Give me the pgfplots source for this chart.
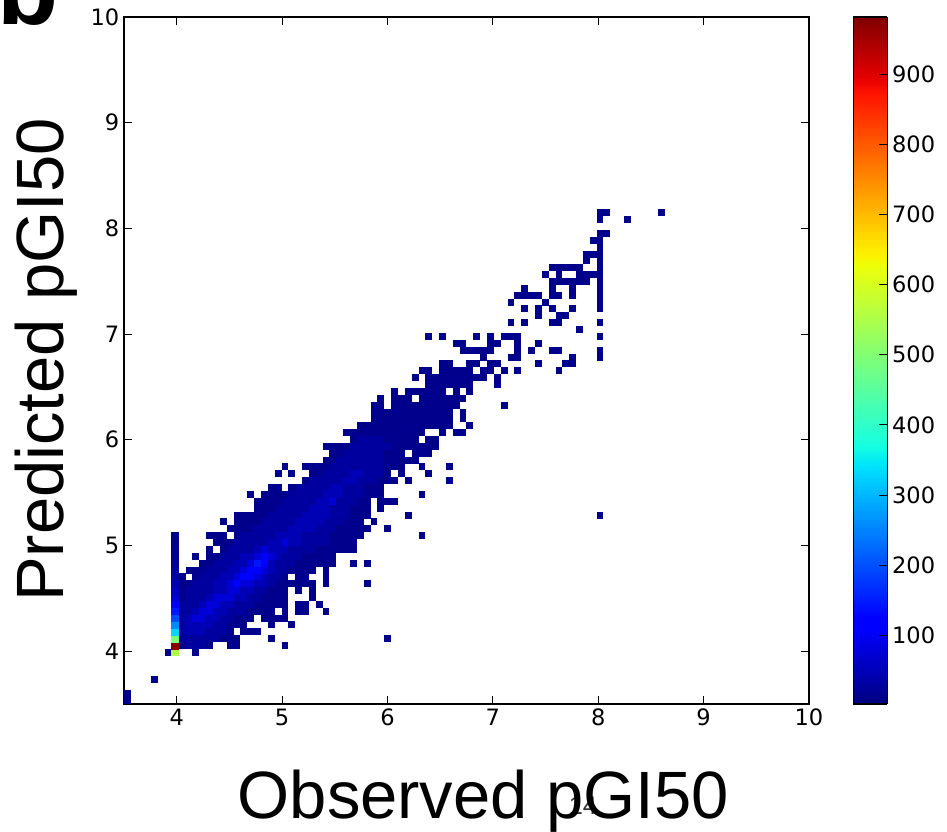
\documentclass[border=0pt]{standalone}
\usepackage{pgfplots}
\usepackage{pgfplotstable}
\usepackage{fontspec}
\pgfplotsset{compat=1.18}
\setmainfont{DejaVu Sans}
\newfontfamily\lib{Liberation Sans}
\definecolor{c0}{rgb}{0,0,0.55}
\definecolor{c1}{rgb}{0,0,0.62}
\definecolor{c2}{rgb}{0,0,0.71}
\definecolor{c3}{rgb}{0,0,0.85}
\definecolor{c4}{rgb}{0,0,1}
\definecolor{c5}{rgb}{0,0.08,1}
\pgfplotsset{colormap={mpljet}{
 rgb(0pt)=(0,0,.5); rgb(110pt)=(0,0,1); rgb(125pt)=(0,0,1); rgb(340pt)=(0,.86,1);
 rgb(350pt)=(0,.9,.968); rgb(375pt)=(.081,1,.887); rgb(640pt)=(.935,1,.032);
 rgb(650pt)=(.968,.964,0); rgb(660pt)=(1,.929,0); rgb(890pt)=(1,.071,0);
 rgb(910pt)=(.909,0,0); rgb(1000pt)=(.5,0,0)}}
% histogram cells: row j, first column a, last column b (bin width 0.065 from 3.5)
\pgfplotstableread{
j a b
0 0 0
1 0 0
3 4 4
7 6 6
7 10 10
8 8 12
8 15 16
8 23 23
9 8 16
9 21 21
9 38 38
10 8 15
10 17 19
11 8 17
11 21 21
11 24 24
12 8 18
12 20 23
13 8 21
13 23 23
13 25 26
13 29 29
14 8 23
14 25 26
14 28 28
15 8 23
15 27 27
16 8 23
16 25 25
16 27 27
17 8 27
17 29 29
17 35 35
18 8 8
18 10 23
18 25 26
18 29 29
19 9 27
19 29 29
20 11 30
20 33 33
20 35 35
21 10 10
21 12 30
22 12 12
22 14 33
23 13 33
24 12 14
24 16 34
24 43 43
25 15 35
25 38 38
26 14 14
26 16 34
26 36 36
27 16 35
27 41 41
27 69 69
28 19 35
28 37 37
29 19 35
29 37 39
30 18 18
30 20 37
30 43 43
31 21 22
31 24 37
32 26 39
32 41 41
32 47 47
33 22 22
33 24 24
33 27 38
33 40 40
33 44 44
34 23 23
34 26 40
34 43 43
34 47 47
35 29 42
36 30 40
36 42 44
37 29 45
38 33 42
38 44 45
39 32 43
39 46 46
39 48 49
40 34 47
40 50 50
41 36 47
41 49 49
42 36 47
42 49 49
43 36 37
43 39 48
43 55 55
44 37 37
44 39 41
44 43 49
45 39 39
45 41 46
45 48 48
45 50 50
46 44 50
46 54 54
47 42 42
47 44 52
47 54 54
48 43 44
48 46 50
48 52 53
48 55 55
48 57 57
48 63 63
49 46 47
49 50 51
49 53 54
49 60 60
49 64 65
50 52 52
50 56 57
50 65 65
50 69 69
51 49 53
51 57 57
51 59 59
51 62 63
51 69 69
52 48 49
52 53 54
52 57 57
52 60 60
53 44 44
53 46 46
53 51 51
53 53 53
53 55 57
53 69 69
54 66 66
55 56 56
55 58 58
55 62 63
55 69 69
56 60 60
56 63 64
57 58 58
57 60 60
57 62 62
57 65 65
57 69 69
58 56 56
58 61 61
58 69 69
59 57 60
59 62 63
59 65 65
59 69 69
60 58 58
60 62 62
60 65 65
60 69 69
61 62 67
61 69 69
62 61 61
62 63 63
62 66 69
63 62 66
63 69 69
64 67 67
64 69 69
65 67 69
66 69 69
67 68 69
68 69 70
70 69 69
70 73 73
71 69 70
71 78 78
}\baselayer
\pgfplotstableread{
j a b
8 9 11
9 8 13
10 8 14
11 8 14
12 8 15
13 8 17
14 8 18
15 9 19
16 9 20
17 10 21
18 11 22
19 12 23
20 13 24
21 14 25
22 15 27
23 16 29
24 17 29
25 19 30
26 20 31
27 21 32
28 22 32
29 23 33
30 24 34
31 25 34
32 27 36
33 29 37
34 30 37
35 31 37
36 32 37
37 33 38
38 34 37
}\layerone
\pgfplotstableread{
j a b
10 9 11
11 9 12
12 9 13
13 10 14
14 11 15
15 12 17
16 13 18
17 13 20
18 14 20
19 15 21
20 16 21
21 17 22
22 19 23
23 21 25
24 22 25
25 24 27
26 25 28
27 26 29
28 27 29
29 28 30
30 29 31
31 30 31
32 32 33
33 33 34
}\layertwo
\pgfplotstableread{
j a b
12 10 11
13 11 12
14 12 13
15 13 15
16 15 16
17 15 18
18 16 19
19 17 20
20 18 20
21 19 21
22 20 20
23 23 23
29 30 30
}\layerthree
\pgfplotstableread{
j a b
17 16 16
18 17 18
19 18 19
20 19 20
21 20 20
}\layerfour
\pgfplotstableread{
j a b
20 19 19
}\layerfive
% the column at observed pGI50 = 4: row j and count
\pgfplotstableread{
j count
7 555
8 975
9 490
10 330
11 255
12 195
13 145
14 100
15 72
16 58
17 45
18 32
19 25
20 20
21 16
22 13
23 10
24 8
}\edgecol
\newcommand{\layer}[2]{\addplot[draw=none, no markers, forget plot,
  error bars/.cd, x dir=plus, x explicit, error mark=none,
  error bar style={draw=#1, line width=5.25pt, solid}]
  table[x expr=3.5+0.065*\thisrow{a}, y expr=3.5+0.065*(\thisrow{j}+0.5),
        x error expr=0.065*(\thisrow{b}-\thisrow{a}+1)] {#2};}
\begin{document}
\begin{tikzpicture}
\useasboundingbox (0pt,0pt) rectangle (710.25pt,624pt);
\node[anchor=base west, inner sep=0pt, font=\lib\bfseries\fontsize{75}{75}\selectfont] at (-2.25pt,605.25pt) {b};
\node[anchor=base, inner sep=0pt, font=\lib\fontsize{19}{19}\selectfont, text=black!80] at (437.25pt,12.75pt) {14};
\begin{axis}[
  at={(93pt,96pt)}, anchor=south west,
  scale only axis, width=513.75pt, height=515.25pt,
  xmin=3.5, xmax=10, ymin=3.5, ymax=10,
  xtick={4,5,6,7,8,9,10}, ytick={4,5,6,7,8,9,10},
  minor tick num=0,
  tick align=inside, major tick length=6pt,
  tick style={black, line width=0.6pt},
  xticklabel pos=bottom, yticklabel pos=left,
  axis line style={line width=1.2pt},
  /pgf/number format/assume math mode=true,
  tick label style={font=\fontsize{16.9}{17}\selectfont},
  xlabel={Observed pGI50}, ylabel={Predicted pGI50},
  every axis x label/.style={at={(axis description cs:0.5245,-0.167)}, anchor=base, font=\lib\fontsize{50.2}{50}\selectfont},
  every axis y label/.style={at={(axis description cs:-0.089,0.5007)}, rotate=90, anchor=base, font=\lib\fontsize{50.2}{50}\selectfont},
  colormap name=mpljet,
  point meta min=1.7, point meta max=982,
  colorbar sampled,
  colorbar style={
    at={(parent axis.south east)}, anchor=south west, xshift=24.75pt,
    scale only axis, width=25.5pt, height=515.25pt,
    samples=257,
    xtick=\empty, ytick={100,200,300,400,500,600,700,800,900},
    ytick pos=right, yticklabel pos=right, tick align=inside,
    major tick length=6pt, minor tick num=0,
    tick style={black, line width=0.6pt},
    axis line style={line width=1.2pt},
    /pgf/number format/assume math mode=true,
    tick label style={font=\fontsize{16.9}{17}\selectfont},
  },
]
\layer{c0}{\baselayer}
\layer{c1}{\layerone}
\layer{c2}{\layertwo}
\layer{c3}{\layerthree}
\layer{c4}{\layerfour}
\layer{c5}{\layerfive}
\addplot[scatter, only marks, mark=square*, mark size=2.6pt, point meta=\thisrow{count},
  scatter/use mapped color={draw=mapped color, fill=mapped color}, line width=0pt]
  table[x expr=3.5+0.065*7.5, y expr=3.5+0.065*(\thisrow{j}+0.5)] {\edgecol};
\end{axis}
\end{tikzpicture}
\end{document}
